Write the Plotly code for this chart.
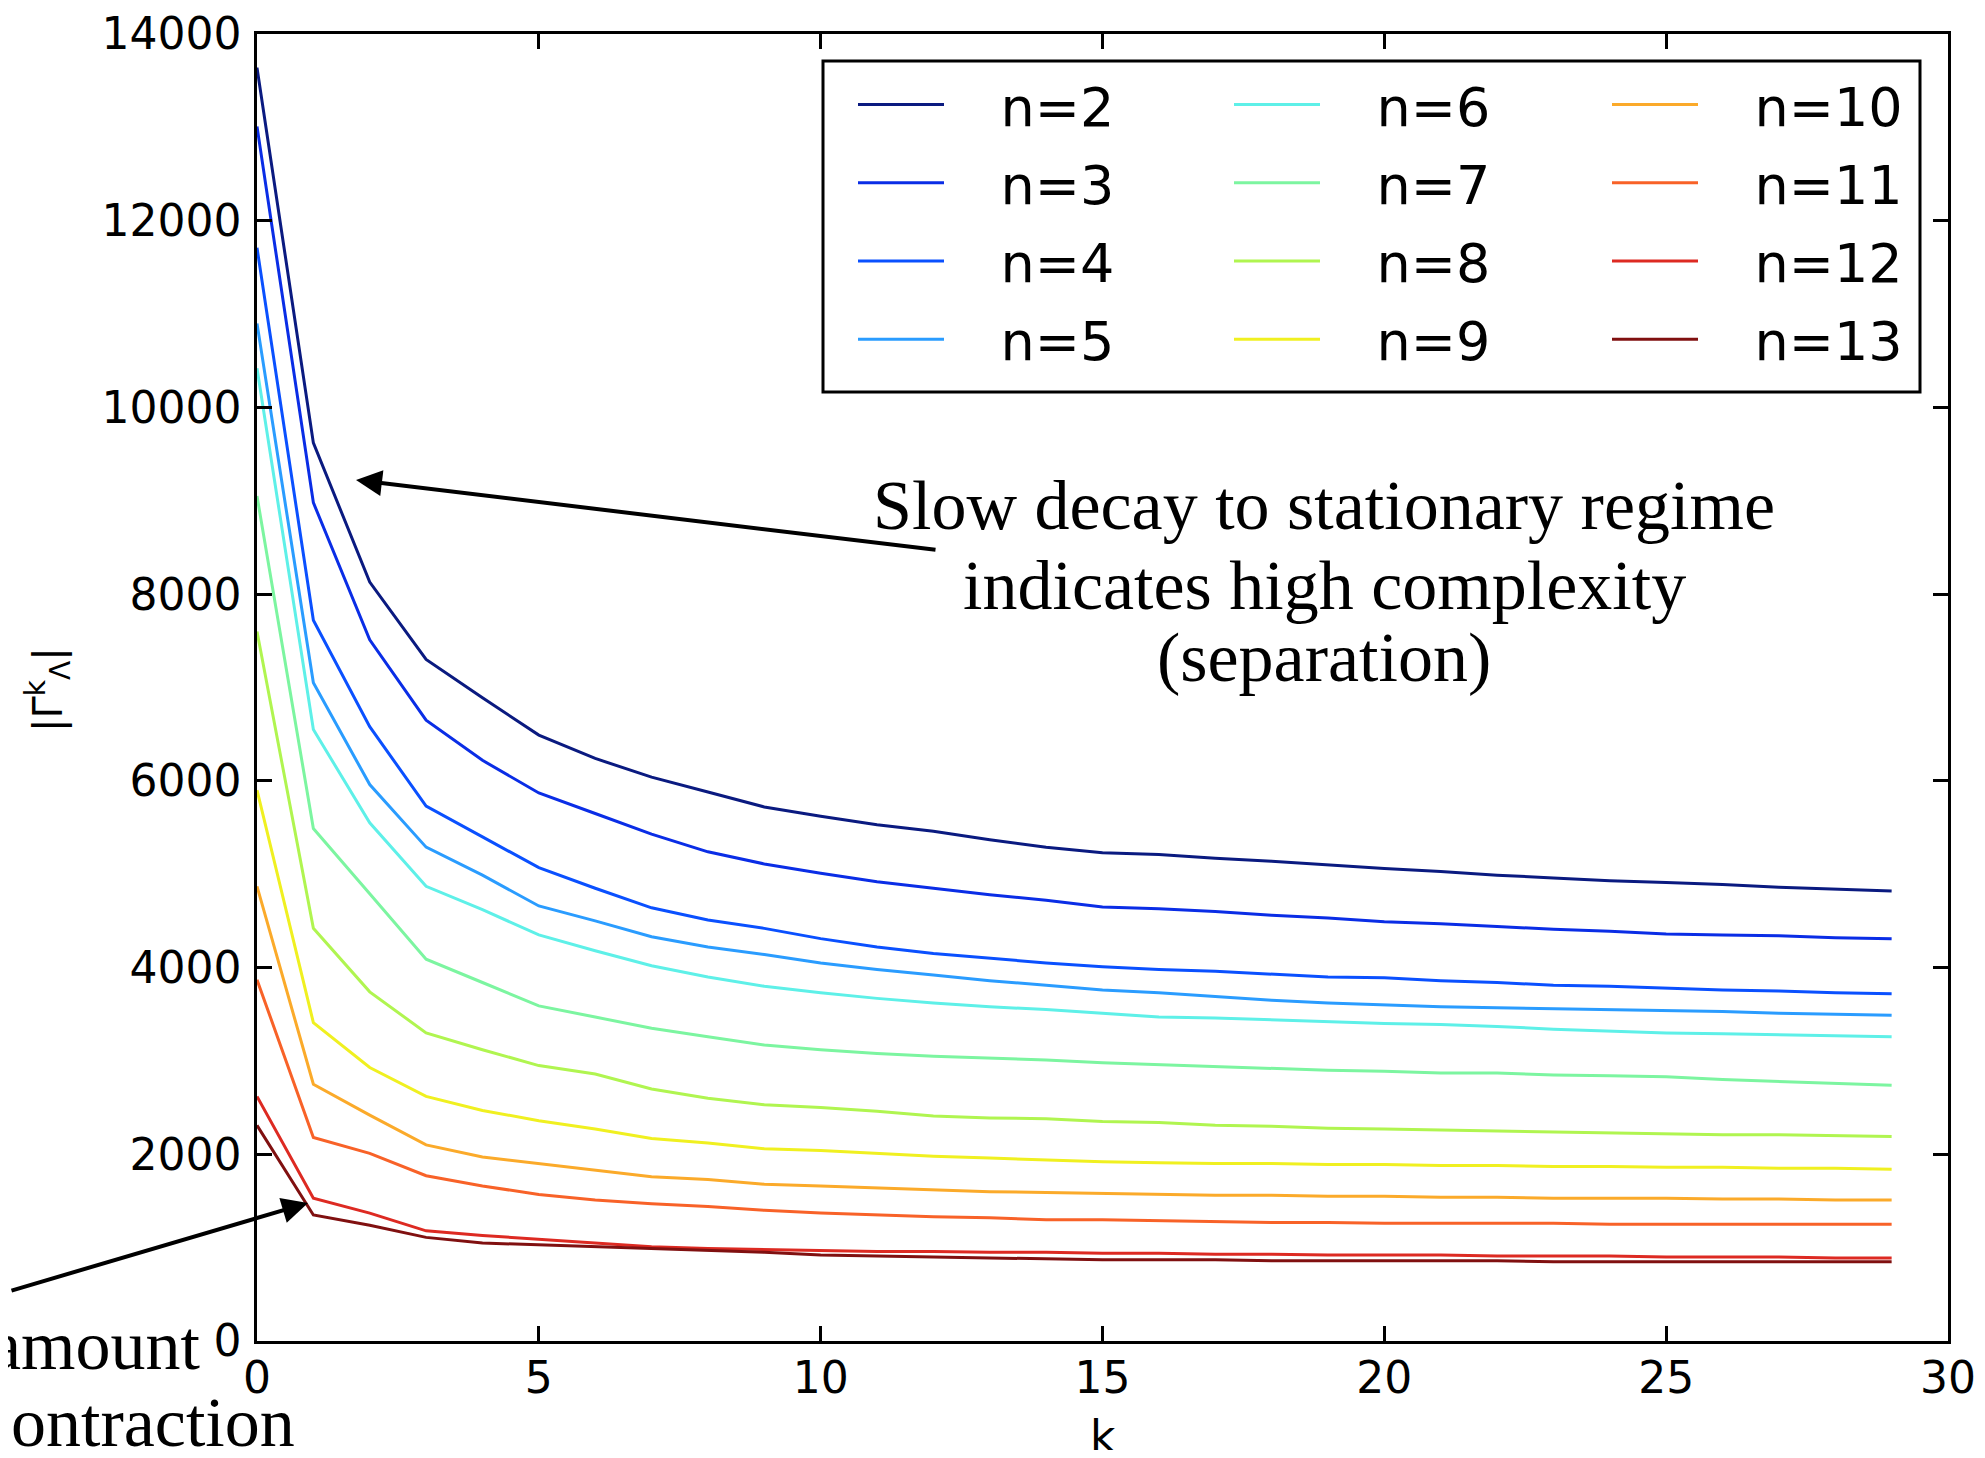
import plotly.graph_objects as go

# ---- data ----
k = list(range(30))

n2 = [13640, 9620, 8130, 7300, 6890, 6490, 6240, 6040, 5880, 5720, 5620, 5530, 5460, 5370, 5290,
      5230, 5210, 5170, 5140, 5100, 5060, 5030, 4990, 4960, 4930, 4910, 4890, 4860, 4840, 4820]
n3 = [13010, 8980, 7510, 6650, 6220, 5870, 5650, 5430, 5240, 5110, 5010, 4920, 4850, 4780, 4720,
      4650, 4630, 4600, 4560, 4530, 4490, 4470, 4440, 4410, 4390, 4360, 4350, 4340, 4320, 4310]
n4 = [11710, 7720, 6580, 5730, 5400, 5070, 4850, 4640, 4510, 4420, 4310, 4220, 4150, 4100, 4050,
      4010, 3980, 3960, 3930, 3900, 3890, 3860, 3840, 3810, 3800, 3780, 3760, 3750, 3730, 3720]
n5 = [10900, 7050, 5960, 5290, 4990, 4660, 4500, 4330, 4220, 4140, 4050, 3980, 3920, 3860, 3810,
      3760, 3730, 3690, 3650, 3620, 3600, 3580, 3570, 3560, 3550, 3540, 3530, 3510, 3500, 3490]
n6 = [10420, 6550, 5550, 4870, 4620, 4350, 4180, 4020, 3900, 3800, 3730, 3670, 3620, 3580, 3550,
      3510, 3470, 3460, 3440, 3420, 3400, 3390, 3370, 3340, 3320, 3300, 3290, 3280, 3270, 3260]
n7 = [9050, 5490, 4790, 4090, 3840, 3590, 3470, 3350, 3260, 3170, 3120, 3080, 3050, 3030, 3010,
      2980, 2960, 2940, 2920, 2900, 2890, 2870, 2870, 2850, 2840, 2830, 2800, 2780, 2760, 2740]
n8 = [7600, 4420, 3740, 3300, 3120, 2950, 2860, 2700, 2600, 2530, 2500, 2460, 2410, 2390, 2380,
      2350, 2340, 2310, 2300, 2280, 2270, 2260, 2250, 2240, 2230, 2220, 2210, 2210, 2200, 2190]
n9 = [5900, 3410, 2930, 2620, 2470, 2360, 2270, 2170, 2120, 2060, 2040, 2010, 1980, 1960, 1940,
      1920, 1910, 1900, 1900, 1890, 1890, 1880, 1880, 1870, 1870, 1860, 1860, 1850, 1850, 1840]
n10 = [4870, 2750, 2420, 2100, 1970, 1900, 1830, 1760, 1730, 1680, 1660, 1640, 1620, 1600, 1590,
       1580, 1570, 1560, 1560, 1550, 1550, 1540, 1540, 1530, 1530, 1530, 1520, 1520, 1510, 1510]
n11 = [3870, 2180, 2010, 1770, 1660, 1570, 1510, 1470, 1440, 1400, 1370, 1350, 1330, 1320, 1300,
       1300, 1290, 1280, 1270, 1270, 1260, 1260, 1260, 1260, 1250, 1250, 1250, 1250, 1250, 1250]
n12 = [2620, 1530, 1370, 1180, 1130, 1090, 1050, 1010, 990, 980, 970, 960, 960, 950, 950,
       940, 940, 930, 930, 920, 920, 920, 910, 910, 910, 900, 900, 900, 890, 890]
n13 = [2310, 1350, 1240, 1110, 1050, 1030, 1010, 990, 970, 950, 920, 910, 900, 890, 880,
       870, 870, 870, 860, 860, 860, 860, 860, 850, 850, 850, 850, 850, 850, 850]

names = ["n=2", "n=3", "n=4", "n=5", "n=6", "n=7", "n=8", "n=9", "n=10", "n=11", "n=12", "n=13"]
series = [n2, n3, n4, n5, n6, n7, n8, n9, n10, n11, n12, n13]
colors = ["#0a1a80", "#0a2de6", "#0a50ff", "#2a9cff", "#5ef0e8", "#7cf5a0",
          "#b0f550", "#f0f020", "#fbaa2a", "#f86228", "#dd2a22", "#801010"]
legend_ids = ["legend"] * 4 + ["legend2"] * 4 + ["legend3"] * 4

x_ticks = [0, 5, 10, 15, 20, 25, 30]
y_ticks = [0, 2000, 4000, 6000, 8000, 10000, 12000, 14000]

# page has an 8px body margin: figure is drawn 8px inside the window
OFF = 8
WIN_W, WIN_H = 1985, 1458
W, H = WIN_W - 2 * OFF, WIN_H - 2 * OFF
AX_L, AX_R, AX_T, AX_B = 257, 1948, 34, 1341      # plot area in window pixels
PW, PH = AX_R - AX_L, AX_B - AX_T


def px(xw):
    return (xw - AX_L) / PW


def py(yw):
    return (AX_B - yw) / PH


fig = go.Figure()
NB = "\u00a0" * 3
for name, vals, col, lg in zip(names, series, colors, legend_ids):
    fig.add_trace(go.Scatter(
        x=k, y=vals, mode="lines", name=NB + name,
        line=dict(color=col, width=3.0),
        legend=lg, legendgroup=name,
    ))

tickfont = dict(family="DejaVu Sans", size=44, color="black")
axis_common = dict(ticks="inside", ticklen=15, tickwidth=2.5, tickcolor="black",
                   showline=True, linecolor="black", linewidth=2.5, mirror="allticks",
                   showgrid=False, zeroline=False, tickfont=tickfont, automargin=False)
fig.update_xaxes(range=[0, 30], tickvals=x_ticks, ticktext=[str(v) for v in x_ticks],
                 ticklabelstandoff=-4, **axis_common)
fig.update_yaxes(range=[0, 14000], tickvals=y_ticks, ticktext=[str(v) for v in y_ticks],
                 ticklabelstandoff=4, **axis_common)

leg_common = dict(orientation="v", bgcolor="rgba(0,0,0,0)", borderwidth=0,
                  font=dict(family="DejaVu Sans", size=54, color="black"),
                  itemwidth=86, tracegroupgap=5, xanchor="left", yanchor="top", y=py(63))
fig.update_layout(
    width=W, height=H,
    margin=dict(l=AX_L - OFF, r=W - (AX_R - OFF), t=AX_T - OFF, b=H - (AX_B - OFF), pad=0,
                autoexpand=False),
    paper_bgcolor="white", plot_bgcolor="white",
    legend=dict(x=px(853), **leg_common),
    legend2=dict(x=px(1229), **leg_common),
    legend3=dict(x=px(1607), **leg_common),
    shapes=[dict(type="rect", xref="paper", yref="paper",
                 x0=px(823), x1=px(1920), y0=py(392), y1=py(61),
                 line=dict(color="black", width=3), fillcolor="rgba(0,0,0,0)", layer="above")],
)

serif = dict(family="Liberation Serif", size=70, color="black")
ann = []
# axis titles
ann.append(dict(text="|Γ<sup>k</sup><sub>Λ</sub>|", xref="paper", yref="paper", x=px(48), y=py(690),
                textangle=-90, showarrow=False, xanchor="center", yanchor="middle",
                font=dict(family="DejaVu Sans", size=40, color="black")))
ann.append(dict(text="k", xref="paper", yref="paper", x=px(1103), y=py(1436), showarrow=False,
                xanchor="center", yanchor="middle", font=dict(family="DejaVu Sans", size=44, color="black")))
# callout text
for txt, yw in [("Slow decay to stationary regime", 506), ("indicates high complexity", 585),
                ("(separation)", 658)]:
    ann.append(dict(text=txt, xref="paper", yref="paper", x=px(1324), y=py(yw), showarrow=False,
                    xanchor="center", yanchor="middle", font=serif))
ann.append(dict(text="amount", xref="paper", yref="paper", x=px(203), y=py(1345), showarrow=False,
                xanchor="right", yanchor="middle", font=serif))
ann.append(dict(text="ontraction", xref="paper", yref="paper", x=px(297), y=py(1422), showarrow=False,
                xanchor="right", yanchor="middle", font=serif))
# arrows
ann.append(dict(text="", xref="paper", yref="paper", x=px(356), y=py(480), ax=581, ay=70,
                showarrow=True, arrowhead=2, arrowsize=1.3, arrowwidth=4, arrowcolor="black",
                standoff=0, startstandoff=0))
ann.append(dict(text="", xref="paper", yref="paper", x=px(308), y=py(1203), ax=-298, ay=88,
                showarrow=True, arrowhead=2, arrowsize=1.3, arrowwidth=4, arrowcolor="black",
                standoff=0, startstandoff=0))
fig.update_layout(annotations=ann)

fig.write_html("out.html")
